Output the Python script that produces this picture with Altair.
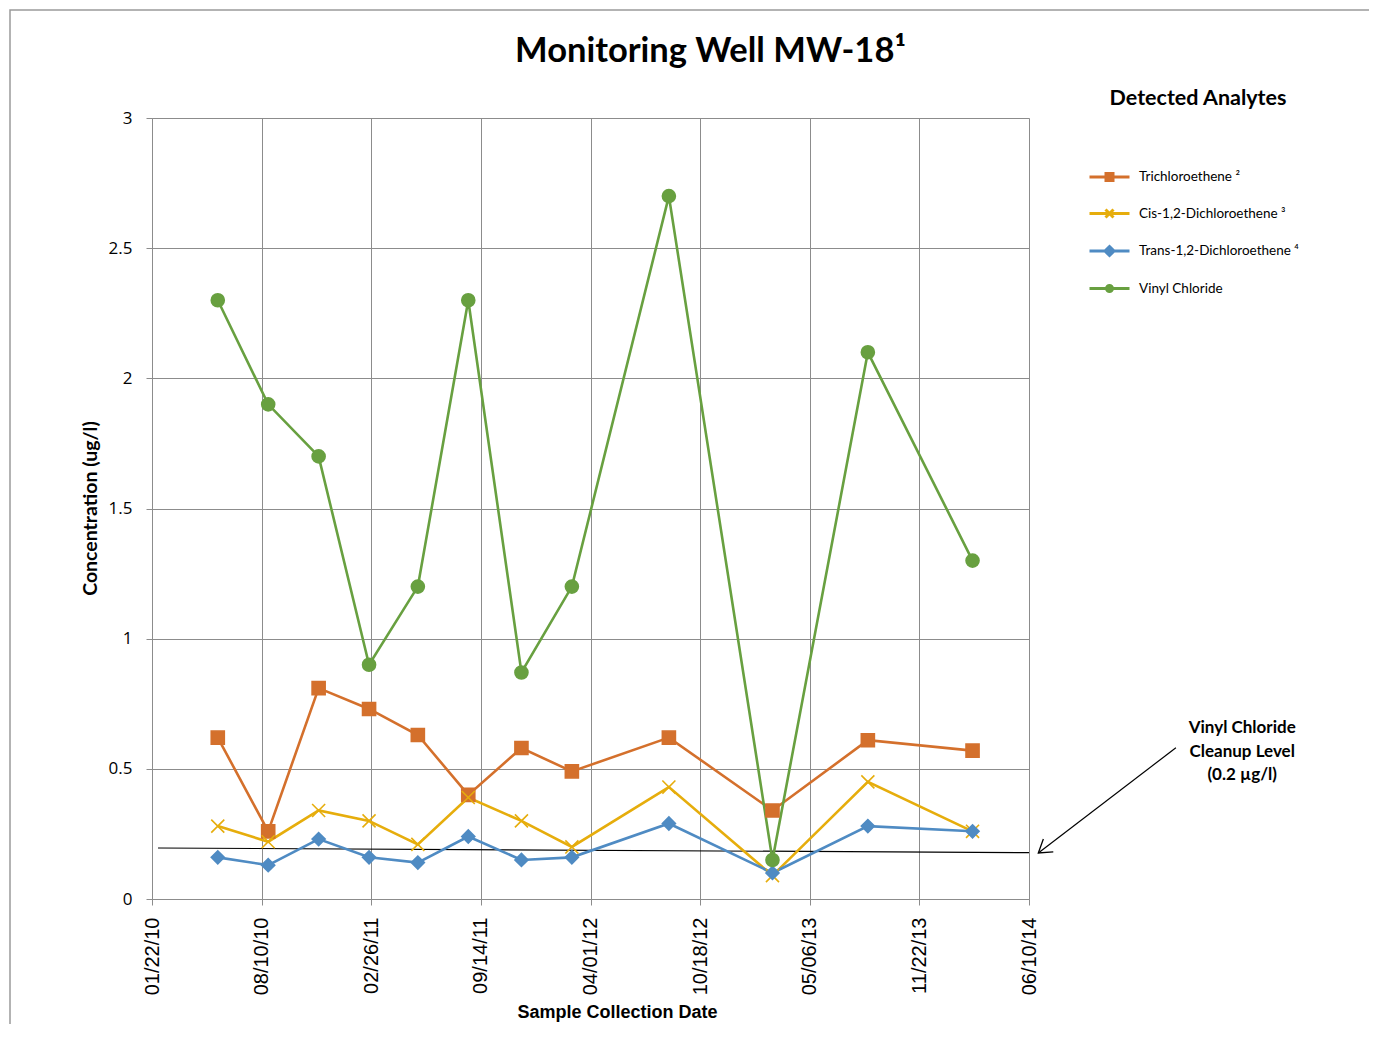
import altair as alt
import pandas as pd

# ---- data ----
sample_dates = ["2010-05-22", "2010-08-22", "2010-11-22", "2011-02-22", "2011-05-22",
                "2011-08-22", "2011-11-27", "2012-02-27", "2012-08-22", "2013-02-27",
                "2013-08-20", "2014-02-27"]
tce = [0.62, 0.26, 0.81, 0.73, 0.63, 0.40, 0.58, 0.49, 0.62, 0.34, 0.61, 0.57]
cis = [0.28, 0.22, 0.34, 0.30, 0.21, 0.39, 0.30, 0.20, 0.43, 0.09, 0.45, 0.26]
trans = [0.16, 0.13, 0.23, 0.16, 0.14, 0.24, 0.15, 0.16, 0.29, 0.10, 0.28, 0.26]
vinyl = [2.3, 1.9, 1.7, 0.9, 1.2, 2.3, 0.87, 1.2, 2.7, 0.15, 2.1, 1.3]

series_names = ["Trichloroethene", "Cis-1,2-Dichloroethene",
                "Trans-1,2-Dichloroethene", "Vinyl Chloride"]
legend_labels = ["Trichloroethene ²", "Cis-1,2-Dichloroethene ³",
                 "Trans-1,2-Dichloroethene ⁴", "Vinyl Chloride"]
series_colors = ["#D4702C", "#E6AD0C", "#4F8BC3", "#68A040"]

tick_dates = ["2010-01-22", "2010-08-10", "2011-02-26", "2011-09-14", "2012-04-01",
              "2012-10-18", "2013-05-06", "2013-11-22", "2014-06-10"]
y_ticks = [0, 0.5, 1, 1.5, 2, 2.5, 3]

cleanup_dates = ["2010-02-02", "2014-06-10"]
cleanup_values = [0.196, 0.178]

# annotation (data coordinates)
arrow_tail = ("2015-03-05", 0.581)
arrow_tip = ("2014-06-27", 0.177)
note_lines = ["Vinyl Chloride", "Cleanup Level", "(0.2 µg/l)"]
note_date = "2015-07-04"
note_values = [0.658, 0.566, 0.478]

# ---- build tables ----
rows = []
for name, vals in zip(series_names, [tce, cis, trans, vinyl]):
    for d, v in zip(sample_dates, vals):
        rows.append({"date": d, "value": v, "series": name})
df = pd.DataFrame(rows)

cleanup_df = pd.DataFrame({"date": cleanup_dates, "value": cleanup_values})
arrow_df = pd.DataFrame({"date": [arrow_tail[0]], "value": [arrow_tail[1]],
                         "date2": [arrow_tip[0]], "value2": [arrow_tip[1]]})
tip_df = pd.DataFrame({"date": [arrow_tip[0]], "value": [arrow_tip[1]]})
note_df = pd.DataFrame({"date": [note_date] * 3, "value": note_values, "text": note_lines})


def ms(s):
    return int(pd.Timestamp(s, tz="UTC").value // 10**6)


tick_ms = [ms(d) for d in tick_dates]
GRID = "#8c8c8c"

marker_paths = [
    "square",
    "M-1,-1L1,1M-1,1L1,-1",
    "diamond",
    "circle",
]
legend_paths = [
    "M-2,0H2M-0.35,-0.35H0.35V0.35H-0.35Z",
    "M-2,0H2M-0.4,-0.4L0.4,0.4M-0.4,0.4L0.4,-0.4",
    "M-2,0H2M0,-0.45L0.45,0L0,0.45L-0.45,0Z",
    "M-2,0H2M0.3,0A0.3,0.3,0,1,1,-0.3,0A0.3,0.3,0,1,1,0.3,0Z",
]

label_map = "{" + ",".join(f"'{n}':'{l}'" for n, l in zip(series_names, legend_labels)) + "}"

x_enc = alt.X(
    "date:T",
    scale=alt.Scale(type="utc", domain=[tick_ms[0], tick_ms[-1]], nice=False),
    axis=alt.Axis(
        values=tick_ms, format="%m/%d/%y", labelAngle=270,
        labelFont="Liberation Sans", labelFontSize=20, labelColor="black",
        labelPadding=12, labelOverlap=False, labelBound=False, labelFlush=False,
        grid=True, gridColor=GRID, gridWidth=1,
        domainColor=GRID, tickColor=GRID, tickSize=6,
        title="Sample Collection Date", titleFont="Liberation Sans",
        titleFontSize=18, titleFontWeight="bold", titleColor="black",
        titleX=465, titleY=104, titleBaseline="top",
    ),
)
y_enc = alt.Y(
    "value:Q",
    scale=alt.Scale(domain=[0, 3], nice=False),
    axis=alt.Axis(
        values=y_ticks, format="~g",
        labelFont="Open Sans", labelFontSize=17, labelColor="black", labelPadding=14,
        grid=True, gridColor=GRID, gridWidth=1,
        domainColor=GRID, tickColor=GRID, tickSize=6,
        title="Concentration (ug/l)", titleFont="Lato", titleFontSize=19.5,
        titleFontWeight="bold", titleColor="black",
        titleX=-62, titleY=390, titleAngle=270, titleBaseline="middle", titleAlign="center",
    ),
)

color_scale = alt.Scale(domain=series_names, range=series_colors)

lines = alt.Chart(df).mark_line(strokeWidth=2.6).encode(
    x=x_enc, y=y_enc,
    color=alt.Color("series:N", scale=color_scale, legend=None),
    detail="series:N",
)

points = alt.Chart(df).mark_point(filled=True, size=170, strokeWidth=1.6, opacity=1).encode(
    x="date:T", y="value:Q",
    fill=alt.Fill("series:N", scale=color_scale, legend=None),
    stroke=alt.Stroke("series:N", scale=color_scale, legend=None),
    shape=alt.Shape("series:N", scale=alt.Scale(domain=series_names, range=marker_paths), legend=None),
)

leg = alt.Legend(
    title="Detected Analytes", orient="none", legendX=946, legendY=-30,
    titleFont="Lato", titleFontSize=21.5, titleFontWeight="bold", titleColor="black",
    titleAnchor="middle", titlePadding=56,
    labelFont="Lato", labelFontSize=13.5, labelColor="black", labelOffset=18,
    labelExpr=label_map + "[datum.label]",
    symbolSize=400, symbolStrokeWidth=3, rowPadding=15.5, padding=0,
)
legend_layer = alt.Chart(df).transform_filter("datum.value < 0").mark_point(
    filled=True, size=400, strokeWidth=3, opacity=1
).encode(
    x="date:T", y="value:Q",
    fill=alt.Fill("series:N", scale=color_scale, legend=leg),
    stroke=alt.Stroke("series:N", scale=color_scale, legend=leg),
    shape=alt.Shape("series:N", scale=alt.Scale(domain=series_names, range=legend_paths), legend=leg),
)

cleanup = alt.Chart(cleanup_df).mark_line(color="black", strokeWidth=1.2).encode(
    x="date:T", y="value:Q")

arrow = alt.Chart(arrow_df).mark_rule(color="black", strokeWidth=1.2).encode(
    x="date:T", y="value:Q", x2="date2:T", y2="value2:Q")

tip = alt.Chart(tip_df).mark_point(filled=False, color="black", size=784, strokeWidth=1.3, opacity=1).encode(
    x="date:T", y="value:Q", shape=alt.value("M0.36,-1L0,0L1.07,-0.07"))

note = alt.Chart(note_df).mark_text(font="Lato", fontSize=17, fontWeight="bold",
                                    color="black", align="center", baseline="middle").encode(
    x="date:T", y="value:Q", text="text:N")

frame_df = pd.DataFrame({"a": [0]})
frame = alt.Chart(frame_df).mark_rect(filled=False, stroke="#9a9a9a", strokeWidth=1.5).encode(
    x=alt.value(-142), x2=alt.value(1240), y=alt.value(-108), y2=alt.value(930))

chart = alt.layer(
    frame, cleanup, lines, points, legend_layer, arrow, tip, note
).resolve_scale(
    shape="independent", fill="independent", stroke="independent"
).properties(
    width=877, height=781,
    autosize=alt.AutoSizeParams(type="none"),
    padding={"left": 144, "top": 110, "right": 340, "bottom": 125},
    title=alt.TitleParams("Monitoring Well MW-18¹", font="Lato", fontSize=34.5,
                          fontWeight="bold", color="black", anchor="middle",
                          dx=120, offset=0, dy=60),
).configure_view(stroke=None).configure(background="white")

chart.save("out.html", embed_options={"renderer": "svg", "actions": False})
